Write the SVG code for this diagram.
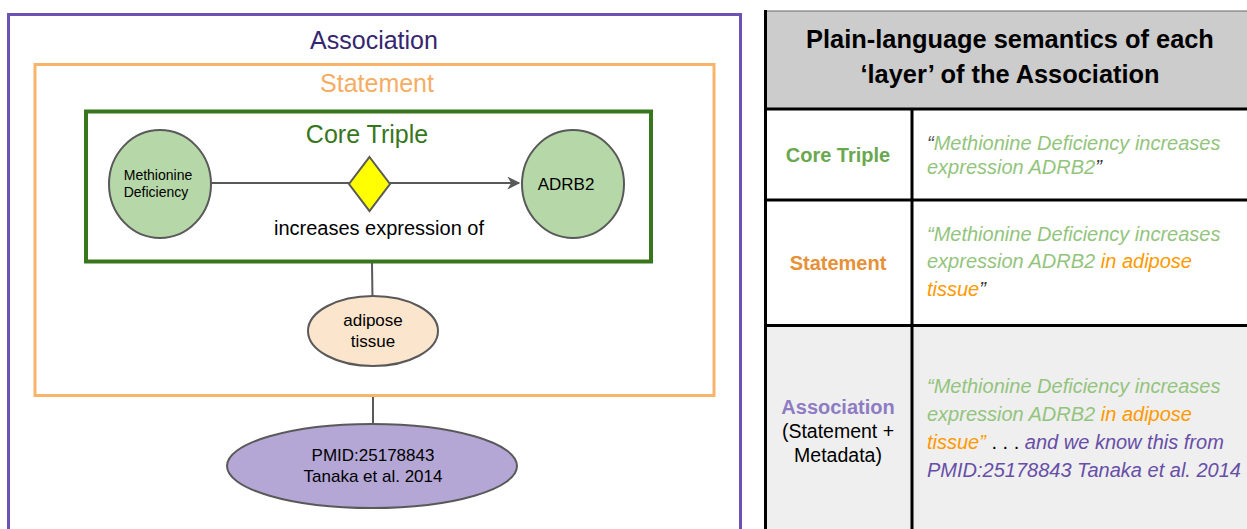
<svg xmlns="http://www.w3.org/2000/svg" width="1247" height="529" viewBox="0 0 1247 529">
<defs>
<style>
text{font-family:"Liberation Sans",Arial,sans-serif;}
.node{stroke:#595959;stroke-width:2;}
.conn{stroke:#595959;stroke-width:2;fill:none;}
.grid{stroke:#000;stroke-width:3;}
.it{font-style:italic;font-size:20px;}
.g{fill:#93c47d;}
.o{fill:#ff9900;}
.p{fill:#674ea7;}
.lbl{font-weight:bold;font-size:20px;text-anchor:middle;}
.title{font-size:25px;text-anchor:middle;}
.nt{font-size:17px;text-anchor:middle;}
</style>
<marker id="arr" viewBox="0 0 10 10" refX="9" refY="5" markerWidth="15" markerHeight="13" markerUnits="userSpaceOnUse" orient="auto">
<path d="M0,0 L10,5 L0,10 L3,5 z" fill="#595959"/>
</marker>
</defs>
<rect width="1247" height="529" fill="#fff"/>

<g id="association">
<rect x="8.5" y="14.5" width="732" height="530" fill="none" stroke="#6b52b4" stroke-width="3"/>
<text x="374" y="49" class="title" fill="#35266f">Association</text>
</g>
<g id="statement">
<rect x="35" y="64.5" width="679" height="331" fill="none" stroke="#f9b46c" stroke-width="3"/>
<text x="377" y="92" class="title" fill="#f6ac63">Statement</text>
</g>
<g id="core-triple">
<rect x="86" y="111.5" width="565" height="150" fill="none" stroke="#38761d" stroke-width="4"/>
<text x="367" y="143" class="title" fill="#38761d">Core Triple</text>
</g>

<g id="connectors">
<line class="conn" x1="211" y1="183" x2="519" y2="183" marker-end="url(#arr)"/>
<line class="conn" x1="372" y1="263" x2="372.5" y2="299"/>
<line class="conn" x1="373" y1="397" x2="373" y2="423"/>
</g>

<g id="methionine">
<ellipse class="node" cx="160" cy="184" rx="51" ry="54" fill="#b6d7a8"/>
<text x="158" y="180" font-size="14" text-anchor="middle">Methionine</text>
<text x="156" y="197" font-size="14" text-anchor="middle">Deficiency</text>
</g>
<g id="predicate">
<polygon class="node" points="369.5,157 390,184 369.5,211 349,184" fill="#ffff00"/>
<text x="379" y="235" font-size="20" text-anchor="middle">increases expression of</text>
</g>
<g id="adrb2">
<ellipse class="node" cx="573" cy="184" rx="51" ry="54" fill="#b6d7a8"/>
<text x="566" y="190" font-size="17" text-anchor="middle">ADRB2</text>
</g>
<g id="adipose">
<ellipse class="node" cx="373" cy="331" rx="65" ry="35" fill="#fce5cd"/>
<text x="373" y="326" class="nt">adipose</text>
<text x="373" y="347" class="nt">tissue</text>
</g>
<g id="pmid">
<ellipse class="node" cx="372" cy="466" rx="145" ry="42" fill="#b4a7d6"/>
<text x="373" y="461" class="nt">PMID:25178843</text>
<text x="373" y="482" class="nt">Tanaka et al. 2014</text>
</g>

<g id="table">
<rect x="765" y="11" width="484" height="98" fill="#cccccc" stroke="#666" stroke-width="1"/>
<rect x="765" y="326" width="484" height="205" fill="#efefef"/>
<line class="grid" x1="765" y1="109" x2="1249" y2="109"/>
<line class="grid" x1="765" y1="200" x2="1249" y2="200"/>
<line class="grid" x1="765" y1="325.5" x2="1249" y2="325.5"/>
<line class="grid" x1="765.5" y1="10" x2="765.5" y2="531"/>
<line class="grid" x1="912" y1="109" x2="912" y2="531"/>
<text x="1010" y="48" font-size="25.4" font-weight="bold" text-anchor="middle">Plain-language semantics of each</text>
<text x="1010" y="83" font-size="25.4" font-weight="bold" text-anchor="middle">‘layer’ of the Association</text>

<text x="838" y="162" class="lbl" fill="#6aa84f">Core Triple</text>
<text x="838" y="270" class="lbl" fill="#e69138">Statement</text>
<text x="838" y="414" class="lbl" fill="#8e7cc3">Association</text>
<text x="838" y="438" font-size="19.5" text-anchor="middle">(Statement +</text>
<text x="838" y="462" font-size="19.5" text-anchor="middle">Metadata)</text>

<text x="927" y="150" class="it g"><tspan fill="#555">“</tspan>Methionine Deficiency increases</text>
<text x="927" y="174" class="it g">expression ADRB2<tspan fill="#333">”</tspan></text>

<text x="927" y="241" class="it g">“Methionine Deficiency increases</text>
<text x="927" y="268" class="it g">expression ADRB2 <tspan class="o">in adipose</tspan></text>
<text x="927" y="296" class="it o">tissue<tspan fill="#333">”</tspan></text>

<text x="927" y="393" class="it g">“Methionine Deficiency increases</text>
<text x="927" y="421" class="it g">expression ADRB2 <tspan class="o">in adipose</tspan></text>
<text x="927" y="449" class="it o">tissue” <tspan fill="#000" font-style="normal">. . .</tspan> <tspan class="p">and we know this from</tspan></text>
<text x="927" y="477" class="it p">PMID:25178843 Tanaka et al. 2014</text>
</g>
</svg>
